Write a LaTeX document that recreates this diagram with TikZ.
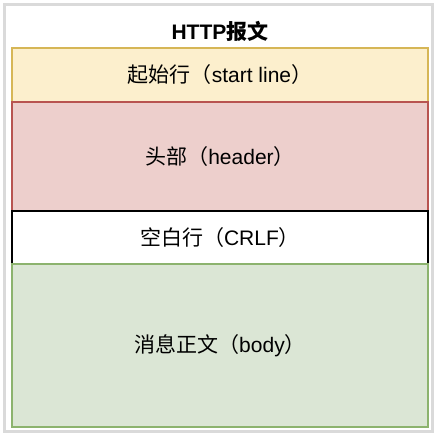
\documentclass[tikz,border=0pt]{standalone}
\usepackage{fontspec}
\setmainfont{Liberation Sans}
\newfontfamily\cjk{Noto Sans CJK SC}
\definecolor{outerc}{HTML}{DADADA}
\definecolor{startfill}{HTML}{FCEFCD}
\definecolor{startdraw}{HTML}{D6B656}
\definecolor{headfill}{HTML}{EDCFCC}
\definecolor{headdraw}{HTML}{B85450}
\definecolor{bodyfill}{HTML}{DBE6D5}
\definecolor{bodydraw}{HTML}{8CB36E}
\tikzset{
  part/.style={draw, line width=1.5pt, minimum width=416pt, inner sep=0pt, outer sep=0pt, anchor=north west, font=\fontsize{21}{25}\selectfont},
}
\begin{document}
\begin{tikzpicture}[x=1pt,y=1pt]
\useasboundingbox (0,0) rectangle (439,440);
\fill[white] (0,0) rectangle (439,440);
\draw[outerc, line width=3pt] (4,8) rectangle (432.5,435);
\node[font=\fontsize{21}{25}\selectfont\bfseries] (title) at (220,409) {HTTP{\cjk\bfseries 报文}};
\node[part, fill=startfill, draw=startdraw, minimum height=54pt] (start) at (12,392) {{\cjk 起始行（}start line{\cjk ）}};
\node[part, fill=headfill, draw=headdraw, minimum height=109pt] (header) at (12,338) {{\cjk 头部（}header{\cjk ）}};
\node[part, fill=white, draw=black, minimum height=53pt] (crlf) at (12,229) {{\cjk 空白行（}CRLF{\cjk ）}};
\node[part, fill=bodyfill, draw=bodydraw, minimum height=163pt] (body) at (12,176) {{\cjk 消息正文（}body{\cjk ）}};
\end{tikzpicture}
\end{document}
